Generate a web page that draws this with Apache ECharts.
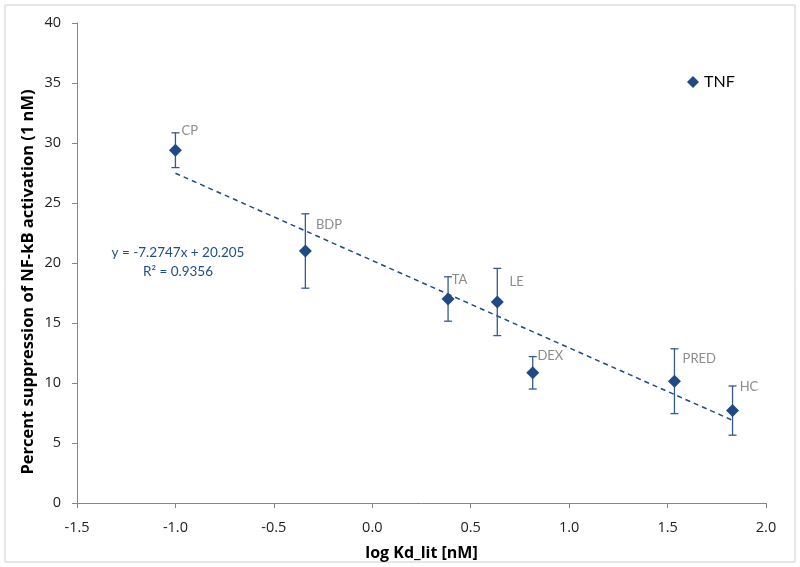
<!DOCTYPE html>
<html><head><meta charset="utf-8">
<script src="https://cdn.jsdelivr.net/npm/echarts@6/dist/echarts.min.js"></script>
<style>html,body{margin:0;padding:0;background:#fff}#c{width:800px;height:567px}</style>
</head><body><div id="c"></div>
<script>
// data
const names = ['CP','BDP','TA','LE','DEX','PRED','HC'];
const logKd = [-1.0, -0.34, 0.385, 0.635, 0.815, 1.535, 1.83];
const suppression = [29.4, 21.0, 17.0, 16.75, 10.85, 10.15, 7.7];
const errUp = [1.45, 3.1, 1.85, 2.8, 1.35, 2.7, 2.05];
const errDown = [1.45, 3.1, 1.85, 2.8, 1.35, 2.7, 2.05];
const trendSlope = -7.2747;
const trendIntercept = 20.205;
const trendR2 = 0.9356;
const xTicks = [-1.5, 2.0, 0.5];
const yTicks = [0, 40, 5];
const xTitle = 'log Kd_lit [nM]';
const yTitle = 'Percent suppression of NF-kB activation (1 nM)';

const blue = '#1F4A86';
const labelOffsets = {CP:[6,-19],BDP:[11,-26],TA:[3,-19],LE:[11,-20],DEX:[5,-17],PRED:[8,-22],HC:[8,-24]};

const pts = names.map((n,i)=>({name:n,value:[logKd[i],suppression[i]],
  label:{show:true,formatter:n,position:'inside',offset:[labelOffsets[n][0]+n.length*4.2,labelOffsets[n][1]]}}));
const errData = names.map((n,i)=>[logKd[i], suppression[i]-errDown[i], suppression[i]+errUp[i]]);
const xMinT = Math.min(...logKd), xMaxT = Math.max(...logKd);
const trend = [[xMinT, trendSlope*xMinT+trendIntercept],[xMaxT, trendSlope*xMaxT+trendIntercept]];

const font = 'Lato, "Open Sans", sans-serif';
const font2 = '"Open Sans", sans-serif';
const chart = echarts.init(document.getElementById('c'));
chart.setOption({
  animation:false,
  backgroundColor:'#fff',
  grid:{left:77,right:34,top:23,bottom:64,containLabel:false},
  legend:{show:true,data:[{name:'TNF',icon:'diamond'}],left:682,top:69,itemWidth:12,itemHeight:12,itemGap:4,
    textStyle:{fontSize:16,color:'#000',fontFamily:font}},
  xAxis:{type:'value',min:xTicks[0],max:xTicks[1],interval:xTicks[2],
    name:xTitle,nameLocation:'middle',nameGap:42,
    nameTextStyle:{fontSize:16,fontWeight:'bold',color:'#000',fontFamily:font2},
    axisLine:{show:true,onZero:false,lineStyle:{color:'#868686'}},
    axisTick:{show:true,length:5,lineStyle:{color:'#868686'}},
    splitLine:{show:false},
    axisLabel:{fontSize:14.5,color:'#222',fontFamily:font2,margin:17,formatter:v=>v.toFixed(1)}},
  yAxis:{type:'value',min:yTicks[0],max:yTicks[1],interval:yTicks[2],
    axisLine:{show:true,onZero:false,lineStyle:{color:'#868686'}},
    axisTick:{show:true,length:5,lineStyle:{color:'#868686'}},
    splitLine:{show:false},
    axisLabel:{fontSize:14.5,color:'#222',fontFamily:font2,margin:16}},
  series:[
    {type:'line',name:'trend',data:trend,symbol:'none',silent:true,
      lineStyle:{color:blue,width:1.5,type:[5,4]},z:2},
    {type:'custom',name:'err',data:errData,z:3,
      renderItem:(params,api)=>{
        const x=api.value(0);
        const lo=api.coord([x,api.value(1)]), hi=api.coord([x,api.value(2)]);
        const st={stroke:'#37598E',lineWidth:1.3};
        return {type:'group',children:[
          {type:'line',shape:{x1:lo[0],y1:lo[1],x2:hi[0],y2:hi[1]},style:st},
          {type:'line',shape:{x1:lo[0]-4,y1:lo[1],x2:lo[0]+4,y2:lo[1]},style:st},
          {type:'line',shape:{x1:hi[0]-4,y1:hi[1],x2:hi[0]+4,y2:hi[1]},style:st}
        ]};
      }},
    {type:'scatter',name:'TNF',data:pts,symbol:'diamond',symbolSize:13,z:4,
      itemStyle:{color:blue,opacity:1},
      label:{color:'#8C8C8C',fontSize:13,fontFamily:font}}
  ],
  graphic:[
    {type:'rect',shape:{x:5,y:5,width:790,height:557},style:{fill:'none',stroke:'#D0D0D0',lineWidth:1},silent:true},
    {type:'text',x:28,y:282,rotation:Math.PI/2,style:{text:yTitle,fill:'#000',fontSize:16.5,fontWeight:'bold',fontFamily:font2,align:'center',verticalAlign:'middle'}},
    {type:'text',x:178,y:253,style:{text:'y = '+trendSlope+'x + '+trendIntercept,fill:'#1F4E86',fontSize:13.5,fontFamily:font,align:'center',verticalAlign:'middle'}},
    {type:'text',x:178,y:272,style:{text:'R² = '+trendR2,fill:'#1F4E86',fontSize:13.5,fontFamily:font,align:'center',verticalAlign:'middle'}}
  ]
});
</script></body></html>
